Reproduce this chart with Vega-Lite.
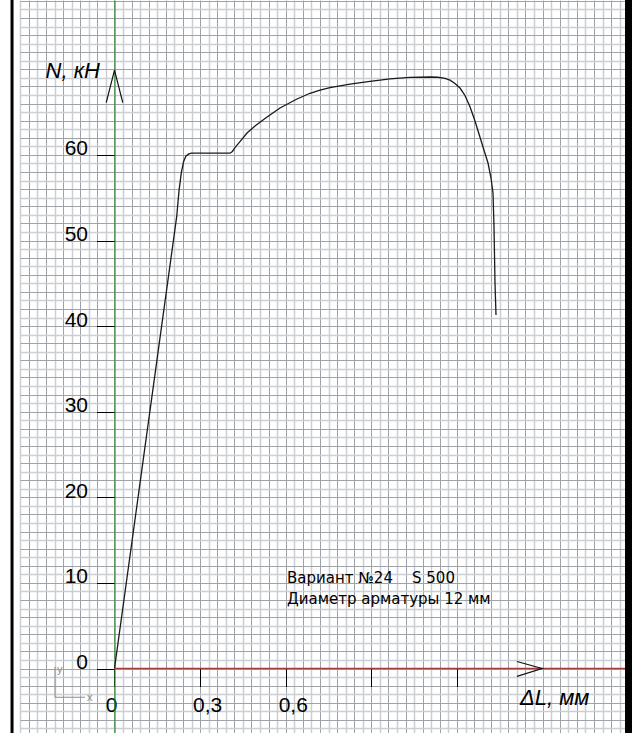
{
  "$schema": "https://vega.github.io/schema/vega-lite/v6.json",
  "width": 605,
  "height": 733,
  "autosize": {"type": "none"},
  "padding": {"left": 20, "right": 17, "top": 0, "bottom": 0},
  "background": "white",
  "config": {"view": {"stroke": null}},
  "datasets": {
    "curve": [
      {"dl": 0, "n": 0},
      {"dl": 0.2179, "n": 52.78},
      {"dl": 0.226, "n": 55.8},
      {"dl": 0.234, "n": 57.9},
      {"dl": 0.242, "n": 59.2},
      {"dl": 0.25, "n": 59.85},
      {"dl": 0.26, "n": 60.12},
      {"dl": 0.27, "n": 60.2},
      {"dl": 0.4047, "n": 60.2},
      {"dl": 0.413, "n": 60.4},
      {"dl": 0.422, "n": 60.85},
      {"dl": 0.4397, "n": 61.56},
      {"dl": 0.4643, "n": 62.56},
      {"dl": 0.4923, "n": 63.38},
      {"dl": 0.5273, "n": 64.25},
      {"dl": 0.5798, "n": 65.48},
      {"dl": 0.6394, "n": 66.53},
      {"dl": 0.685, "n": 67.2},
      {"dl": 0.72, "n": 67.58},
      {"dl": 0.7551, "n": 67.87},
      {"dl": 0.8252, "n": 68.28},
      {"dl": 0.8952, "n": 68.6},
      {"dl": 0.9653, "n": 68.87},
      {"dl": 1.0354, "n": 69.05},
      {"dl": 1.1055, "n": 69.1},
      {"dl": 1.1335, "n": 69.07},
      {"dl": 1.158, "n": 68.95},
      {"dl": 1.1755, "n": 68.73},
      {"dl": 1.193, "n": 68.34},
      {"dl": 1.2106, "n": 67.81},
      {"dl": 1.228, "n": 66.94},
      {"dl": 1.2456, "n": 65.63},
      {"dl": 1.2631, "n": 63.96},
      {"dl": 1.2912, "n": 60.92},
      {"dl": 1.3087, "n": 59.05},
      {"dl": 1.3192, "n": 57.3},
      {"dl": 1.3262, "n": 55.55},
      {"dl": 1.3297, "n": 51.58},
      {"dl": 1.3332, "n": 45.03},
      {"dl": 1.3367, "n": 41.3}
    ],
    "arrows": [
      {"arrow": "y", "ord": 1, "dl": -0.029, "n": 66.1},
      {"arrow": "y", "ord": 2, "dl": 0, "n": 69.9},
      {"arrow": "y", "ord": 3, "dl": 0.029, "n": 66.1},
      {"arrow": "x", "ord": 1, "dl": 1.41, "n": 0.82},
      {"arrow": "x", "ord": 2, "dl": 1.498, "n": 0},
      {"arrow": "x", "ord": 3, "dl": 1.41, "n": -0.92}
    ],
    "ucs": [
      {"ord": 1, "dl": -0.2085, "n": 0.2},
      {"ord": 2, "dl": -0.2085, "n": -3.36},
      {"ord": 3, "dl": -0.1034, "n": -3.36}
    ],
    "one": [{}]
  },
  "layer": [
    {
      "data": {"name": "curve"},
      "mark": {"type": "line", "color": "#1a1a1a", "strokeWidth": 1.3},
      "encoding": {
        "x": {
          "field": "dl", "type": "quantitative",
          "scale": {"domain": [-0.3311, 1.7887], "nice": false, "zero": false},
          "axis": {
            "orient": "bottom", "offset": -64.5, "title": null, "domain": false,
            "tickCount": 500,
            "values": [-0.33,-0.3,-0.27,-0.24,-0.21,-0.18,-0.15,-0.12,-0.09,-0.06,-0.03,0,0.03,0.06,0.09,0.12,0.15,0.18,0.21,0.24,0.27,0.3,0.33,0.36,0.39,0.42,0.45,0.48,0.51,0.54,0.57,0.6,0.63,0.66,0.69,0.72,0.75,0.78,0.81,0.84,0.87,0.9,0.93,0.96,0.99,1.02,1.05,1.08,1.11,1.14,1.17,1.2,1.23,1.26,1.29,1.32,1.35,1.38,1.41,1.44,1.47,1.5,1.53,1.56,1.59,1.62,1.65,1.68,1.71,1.74,1.77],
            "grid": true,
            "gridColor": {"condition": {"test": "round(datum.value/0.03)%2==0", "value": "#9ea2a9"}, "value": "#cbced3"},
            "gridWidth": {"condition": {"test": "round(datum.value/0.03)%2==0", "value": 1}, "value": 1.5},
            "tickSize": 18, "tickColor": "black", "tickWidth": 1,
            "tickOpacity": {"condition": {"test": "datum.value>-0.01 && datum.value<1.25 && abs(datum.value/0.3-round(datum.value/0.3))<0.01", "value": 1}, "value": 0},
            "labelExpr": "datum.value>-0.01 && datum.value<0.65 && abs(datum.value/0.3-round(datum.value/0.3))<0.01 ? (datum.value<0.01 ? '0' : replace(format(datum.value,'.1f'),'.',',')) : ''",
            "labelFont": "Liberation Sans", "labelFontSize": 21, "labelColor": "black",
            "labelAlign": "center",
            "labelOffset": {"condition": {"test": "datum.value<0.1", "value": -3.5}, "value": 7},
            "labelBaseline": "alphabetic", "labelPadding": 25, "labelOverlap": false, "labelFlush": false
          }
        },
        "y": {
          "field": "n", "type": "quantitative",
          "scale": {"domain": [-7.535, 78.096], "nice": false, "zero": false},
          "axis": {
            "orient": "left", "offset": -94.5, "title": null,
            "domain": true, "domainColor": "#2f8f2f", "domainWidth": 1.2,
            "tickCount": 500,
            "values": [-7,-6,-5,-4,-3,-2,-1,0,1,2,3,4,5,6,7,8,9,10,11,12,13,14,15,16,17,18,19,20,21,22,23,24,25,26,27,28,29,30,31,32,33,34,35,36,37,38,39,40,41,42,43,44,45,46,47,48,49,50,51,52,53,54,55,56,57,58,59,60,61,62,63,64,65,66,67,68,69,70,71,72,73,74,75,76,77,78],
            "grid": true,
            "gridColor": {"condition": {"test": "datum.value%2==0", "value": "#9ea2a9"}, "value": "#cbced3"},
            "gridWidth": {"condition": {"test": "datum.value%2==0", "value": 1}, "value": 1.5},
            "tickSize": 18, "tickColor": "black", "tickWidth": 1,
            "tickOpacity": {"condition": {"test": "datum.value>=0 && datum.value<=60 && datum.value%10==0", "value": 1}, "value": 0},
            "labelExpr": "datum.value>=0 && datum.value<=60 && datum.value%10==0 ? format(datum.value,'d') : ''",
            "labelFont": "Liberation Sans", "labelFontSize": 21, "labelColor": "black",
            "labelPadding": 9, "labelBaseline": "alphabetic", "labelOverlap": false, "labelFlush": false
          }
        }
      }
    },
    {
      "data": {"name": "one"},
      "mark": {"type": "rule", "color": "#a33b3b", "strokeWidth": 1.3},
      "encoding": {
        "x": {"datum": 0, "type": "quantitative"},
        "x2": {"datum": 1.7887},
        "y": {"datum": 0, "type": "quantitative"}
      }
    },
    {
      "data": {"name": "arrows"},
      "mark": {"type": "line", "color": "#111111", "strokeWidth": 1.2},
      "encoding": {
        "x": {"field": "dl", "type": "quantitative"},
        "y": {"field": "n", "type": "quantitative"},
        "detail": {"field": "arrow"},
        "order": {"field": "ord"}
      }
    },
    {
      "data": {"name": "ucs"},
      "mark": {"type": "line", "color": "#8c8c8c", "strokeWidth": 1},
      "encoding": {
        "x": {"field": "dl", "type": "quantitative"},
        "y": {"field": "n", "type": "quantitative"},
        "order": {"field": "ord"}
      }
    },
    {
      "data": {"name": "one"},
      "mark": {"type": "rule", "color": "black", "strokeWidth": 3},
      "encoding": {"x": {"datum": -0.359, "type": "quantitative"}}
    },
    {
      "data": {"name": "one"},
      "mark": {"type": "rule", "color": "black", "strokeWidth": 7},
      "encoding": {"x": {"datum": 1.801, "type": "quantitative"}}
    },
    {
      "data": {"name": "one"},
      "mark": {"type": "text", "text": "N, кН", "font": "Liberation Sans", "fontStyle": "italic", "fontSize": 22, "align": "right", "baseline": "alphabetic", "color": "black"},
      "encoding": {
        "x": {"datum": -0.0508, "type": "quantitative"},
        "y": {"datum": 68.98, "type": "quantitative"}
      }
    },
    {
      "data": {"name": "one"},
      "mark": {"type": "text", "text": "ΔL, мм", "font": "Liberation Sans", "fontStyle": "italic", "fontSize": 22, "align": "left", "baseline": "alphabetic", "color": "black"},
      "encoding": {
        "x": {"datum": 1.4208, "type": "quantitative"},
        "y": {"datum": -4.26, "type": "quantitative"}
      }
    },
    {
      "data": {"name": "one"},
      "mark": {"type": "text", "text": ["Вариант №24\u00a0\u00a0\u00a0 S 500", "Диаметр арматуры 12 мм"], "font": "DejaVu Sans", "fontSize": 15, "lineHeight": 21.6, "align": "left", "baseline": "alphabetic", "color": "black"},
      "encoding": {
        "x": {"datum": 0.6044, "type": "quantitative"},
        "y": {"datum": 10.02, "type": "quantitative"}
      }
    },
    {
      "data": {"name": "one"},
      "mark": {"type": "text", "text": "y", "font": "Liberation Sans", "fontSize": 11, "align": "left", "baseline": "alphabetic", "color": "#8c8c8c"},
      "encoding": {
        "x": {"datum": -0.2015, "type": "quantitative"},
        "y": {"datum": -0.53, "type": "quantitative"}
      }
    },
    {
      "data": {"name": "one"},
      "mark": {"type": "text", "text": "x", "font": "Liberation Sans", "fontSize": 11, "align": "left", "baseline": "alphabetic", "color": "#8c8c8c"},
      "encoding": {
        "x": {"datum": -0.0964, "type": "quantitative"},
        "y": {"datum": -3.8, "type": "quantitative"}
      }
    }
  ]
}
